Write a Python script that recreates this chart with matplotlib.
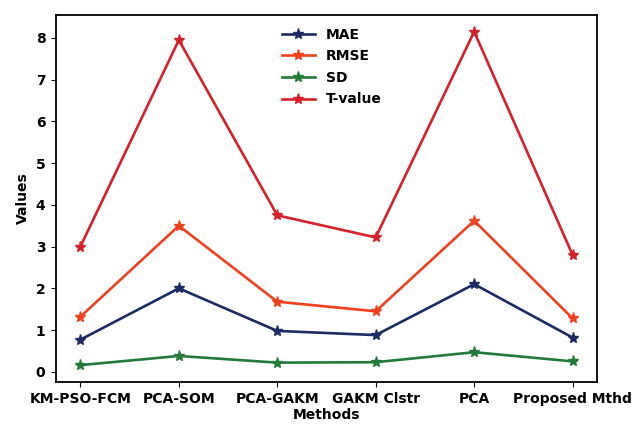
import numpy as np
import matplotlib
matplotlib.use("Agg")
from matplotlib import pyplot as plt

# 데이터
methods = ["KM-PSO-FCM", "PCA-SOM", "PCA-GAKM", "GAKM Clstr", "PCA", "Proposed Mthd"]
mae = [0.77, 2.0, 0.98, 0.88, 2.1, 0.82]
rmse = [1.32, 3.5, 1.68, 1.45, 3.62, 1.28]
sd = [0.16, 0.38, 0.22, 0.23, 0.47, 0.25]
tvalue = [3.0, 7.95, 3.75, 3.22, 8.15, 2.8]

plt.rcParams['font.family'] = 'DejaVu Sans'
plt.rcParams['font.weight'] = 'bold'

fig = plt.figure(figsize=(6.34, 4.29), dpi=100)
ax = fig.add_axes([0.088, 0.110, 0.854, 0.855])

ax.plot(methods, mae, marker='*', color='#1c2a66', lw=1.9, ms=8, label='MAE')
ax.plot(methods, rmse, marker='*', color='#f0401e', lw=1.9, ms=8, label='RMSE')
ax.plot(methods, sd, marker='*', color='#237a3a', lw=1.9, ms=8, label='SD')
ax.plot(methods, tvalue, marker='*', color='#d6202a', lw=1.9, ms=8, label='T-value')

ax.set_xlabel('Methods', fontsize=10, fontweight='bold', labelpad=1)
ax.set_ylabel('Values', fontsize=10, fontweight='bold')
ax.tick_params(labelsize=10, pad=4)
for s in ax.spines.values():
    s.set_linewidth(1.3)
ax.legend(loc='upper center', bbox_to_anchor=(0.51, 1.0), frameon=False,
          fontsize=10, handlelength=2.4, labelspacing=0.55)

fig.savefig('out.png', dpi=100)
